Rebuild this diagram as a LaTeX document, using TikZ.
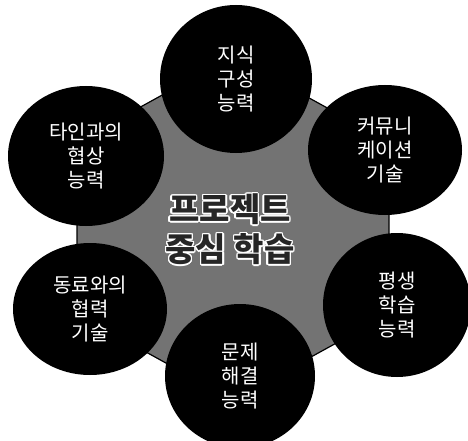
\documentclass[tikz,border=0pt]{standalone}
\usepackage{fontspec}
\newfontfamily\kr{Noto Sans CJK KR}
\usepackage[copies]{contour}
\usetikzlibrary{shapes.geometric}
\contourlength{1.4pt}

\begin{document}
\begin{tikzpicture}[
  x=1pt, y=-1pt, font=\kr,
  skill/.style = {ellipse, fill=black, text=white, inner sep=0pt, align=center,
    font=\kr\fontsize{20}{24}\selectfont},
  hexfill/.style = {draw=black, line width=1.2pt, line join=miter,
    left color=black!55, middle color=black!15, right color=black!55},
  title/.style = {align=center, text=black!85, font=\kr\bfseries\fontsize{33}{40}\selectfont}
  ]
  \useasboundingbox (0,0) rectangle (468,441);
  % central hexagon
  \draw[hexfill] (233,56) -- (389,142) -- (389,314) -- (233,400)
    -- (77,314) -- (77,142) -- cycle;
  \node[title] (@c) at (230,230) {\contour{white}{프로젝트}\\\contour{white}{중심 학습}};
  % six skills
  \node[skill, minimum width=152, minimum height=148] (@1) at (236,79) {지식\\구성\\능력};
  \node[skill, minimum width=154, minimum height=130] (@2) at (385,150) {커뮤니\\케이션\\기술};
  \node[skill, minimum width=148, minimum height=144] (@3) at (397,305) {평생\\학습\\능력};
  \node[skill, minimum width=150, minimum height=144] (@4) at (240,376) {문제\\해결\\능력};
  \node[skill, minimum width=154, minimum height=132] (@5) at (90,309) {동료와의\\협력\\기술};
  \node[skill, minimum width=156, minimum height=140] (@6) at (86,156) {타인과의\\협상\\능력};
\end{tikzpicture}
\end{document}
